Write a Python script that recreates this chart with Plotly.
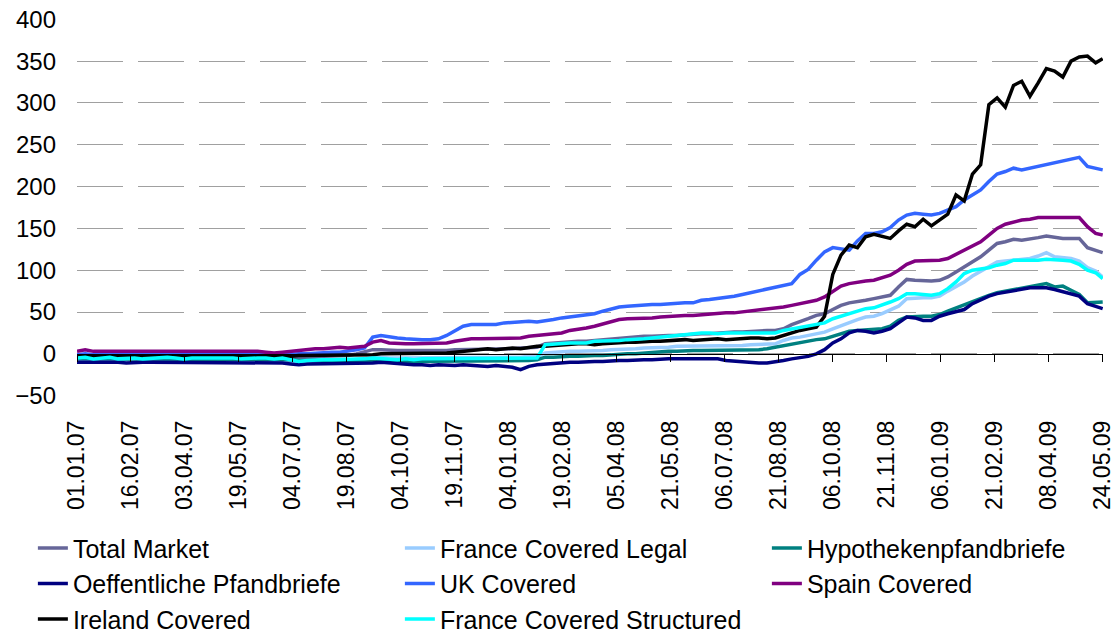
import pandas as pd
import plotly.graph_objects as go

# weekly readings, 01.01.07 .. 18.05.09, plus the last day 24.05.09
DATES = list(pd.date_range("2007-01-01", periods=125, freq="7D")) + [pd.Timestamp("2009-05-24")]

TICK_LABELS = ["01.01.07", "16.02.07", "03.04.07", "19.05.07", "04.07.07", "19.08.07",
               "04.10.07", "19.11.07", "04.01.08", "19.02.08", "05.04.08", "21.05.08",
               "06.07.08", "21.08.08", "06.10.08", "21.11.08", "06.01.09", "21.02.09",
               "08.04.09", "24.05.09"]

total_market = [
    -4, -4, -3, -4, -4, -4, -3, -4, -4, -4,
    -4, -4, -4, -3, -4, -4, -4, -4, -3, -4,
    -4, -4, -4, -4, -4, -5, -5, -4, -4, -4,
    -3, -3, -2, -2, 0, 2, 5, 5, 4, 4,
    4, 4, 3, 4, 4, 4, 5, 5, 5, 6,
    6, 6, 6, 6, 7, 7, 8, 12, 13, 13,
    14, 15, 15, 16, 17, 18, 19, 20, 20, 21,
    21, 22, 22, 22, 23, 23, 24, 24, 25, 25,
    26, 26, 27, 27, 28, 28, 30, 35, 38, 42,
    46, 48, 53, 58, 61, 62, 64, 66, 68, 70,
    80, 89, 88, 87, 87, 88, 92, 98, 104, 110,
    116, 124, 132, 134, 137, 136, 137, 139, 141, 139,
    138, 138, 138, 127, 124, 121]

france_legal = [
    -7, -7, -7, -8, -7, -7, -7, -7, -8, -7,
    -7, -7, -7, -7, -8, -7, -7, -7, -7, -7,
    -7, -8, -7, -7, -8, -9, -10, -11, -10, -9,
    -9, -9, -8, -7, -6, -5, -4, -4, -5, -5,
    -5, -5, -5, -5, -5, -4, -4, -4, -5, -4,
    -4, -4, -4, -4, -4, -3, -3, 1, 2, 2,
    3, 3, 3, 4, 4, 5, 5, 6, 6, 7,
    7, 8, 8, 9, 9, 9, 10, 10, 10, 10,
    10, 10, 11, 11, 11, 12, 16, 19, 20, 22,
    24, 26, 30, 34, 38, 41, 44, 45, 48, 52,
    57, 66, 67, 67, 67, 69, 75, 80, 86, 93,
    99, 104, 110, 111, 112, 113, 114, 117, 121, 116,
    115, 114, 111, 103, 99, 92]

hypo = [
    -6, -6, -6, -6, -7, -6, -6, -6, -6, -6,
    -6, -6, -6, -7, -6, -6, -6, -6, -6, -6,
    -6, -6, -7, -6, -7, -7, -7, -8, -8, -7,
    -7, -7, -8, -8, -8, -8, -8, -8, -9, -9,
    -8, -9, -9, -8, -9, -9, -8, -8, -9, -8,
    -8, -8, -9, -9, -9, -8, -7, -4, -4, -3,
    -3, -3, -2, -2, -2, -1, -1, 0, 0, 1,
    1, 2, 3, 3, 4, 4, 4, 4, 4, 4,
    4, 4, 5, 5, 6, 8, 10, 12, 13, 15,
    17, 18, 21, 25, 27, 28, 29, 29, 30, 33,
    40, 44, 45, 45, 45, 47, 51, 55, 58, 63,
    67, 70, 73, 75, 77, 79, 80, 82, 84, 80,
    81, 76, 71, 61, 61, 62]

oeffentliche = [
    -10, -10, -9, -10, -10, -10, -11, -10, -10, -10,
    -10, -10, -10, -11, -10, -10, -10, -10, -10, -11,
    -10, -10, -10, -10, -11, -11, -12, -13, -12, -12,
    -12, -12, -12, -11, -11, -11, -11, -10, -11, -12,
    -12, -13, -13, -14, -13, -14, -14, -13, -14, -14,
    -15, -14, -15, -16, -19, -15, -13, -12, -11, -10,
    -10, -10, -9, -9, -9, -8, -8, -8, -7, -7,
    -7, -6, -6, -6, -6, -5, -5, -5, -6, -8,
    -9, -9, -10, -11, -11, -10, -8, -6, -5, -3,
    0, 5, 13, 18, 25, 28, 27, 25, 27, 30,
    37, 44, 43, 40, 40, 45, 48, 50, 53, 60,
    65, 69, 72, 74, 76, 78, 79, 79, 79, 77,
    74, 72, 69, 60, 57, 54]

uk = [
    -1, 0, -1, -1, -1, 0, -1, -1, -1, -1,
    -1, -1, 0, -1, -1, -1, -1, 0, -1, -1,
    -1, -1, -1, -1, -2, -1, -1, 0, 0, 1,
    1, 2, 2, 3, 5, 7, 20, 22, 20, 19,
    18, 17, 17, 17, 18, 22, 27, 33, 35, 35,
    36, 35, 37, 38, 38, 39, 38, 39, 41, 43,
    44, 45, 47, 48, 51, 54, 56, 57, 58, 58,
    59, 59, 60, 60, 61, 61, 64, 65, 66, 67,
    69, 71, 73, 76, 78, 79, 81, 84, 95, 101,
    112, 122, 127, 126, 124, 135, 144, 144, 146, 151,
    160, 166, 168, 167, 166, 168, 172, 176, 184, 190,
    196, 206, 215, 218, 222, 220, 222, 225, 227, 228,
    230, 233, 235, 224, 222, 220]

spain = [
    3, 5, 3, 3, 4, 3, 3, 3, 4, 3,
    3, 3, 4, 3, 3, 3, 4, 3, 3, 3,
    3, 3, 3, 2, 1, 2, 3, 5, 5, 6,
    6, 7, 8, 7, 8, 9, 14, 16, 13, 12,
    12, 12, 12, 12, 13, 13, 15, 17, 18, 18,
    18, 18, 18, 19, 19, 21, 22, 23, 24, 25,
    28, 29, 31, 33, 36, 39, 41, 42, 42, 42,
    43, 44, 45, 46, 46, 46, 47, 48, 48, 49,
    49, 50, 52, 53, 54, 55, 56, 58, 60, 62,
    64, 68, 75, 81, 84, 86, 87, 88, 91, 94,
    100, 107, 111, 111, 111, 112, 114, 119, 125, 130,
    134, 142, 150, 155, 158, 160, 161, 163, 163, 163,
    163, 163, 163, 152, 144, 142]

ireland = [
    -3, -3, -3, -4, -3, -3, -3, -4, -3, -3,
    -3, -3, -3, -3, -4, -3, -3, -3, -3, -3,
    -3, -3, -3, -3, -3, -3, -3, -2, -2, -2,
    -2, -2, -1, -2, -2, -1, -1, 0, 0, 0,
    1, 0, 0, 1, 0, 1, 2, 3, 4, 5,
    6, 5, 6, 7, 6, 8, 9, 9, 10, 11,
    11, 12, 12, 11, 12, 13, 13, 14, 14, 15,
    15, 15, 16, 16, 17, 16, 17, 17, 18, 17,
    18, 18, 19, 19, 18, 19, 22, 26, 28, 30,
    32, 45, 95, 118, 130, 127, 140, 143, 140, 138,
    147, 155, 152, 161, 153, 160, 167, 190, 183, 215,
    226, 298, 306, 295, 321, 326, 308, 324, 341, 338,
    331, 350, 355, 356, 348, 353]

france_structured = [
    -5, -4, -6, -5, -4, -6, -5, -5, -6, -5,
    -5, -4, -5, -6, -5, -5, -5, -4, -5, -5,
    -6, -5, -5, -5, -6, -5, -7, -9, -8, -7,
    -7, -7, -7, -6, -6, -6, -5, -6, -6, -7,
    -6, -7, -6, -6, -5, -6, -6, -5, -5, -6,
    -5, -6, -6, -6, -6, -5, -5, 11, 12, 12,
    13, 13, 13, 15, 15, 16, 16, 17, 17, 18,
    19, 20, 22, 23, 23, 24, 25, 25, 24, 25,
    25, 24, 25, 24, 24, 25, 28, 30, 31, 33,
    35, 37, 42, 45, 48, 51, 54, 55, 58, 62,
    66, 72, 72, 71, 70, 72, 78, 86, 96, 100,
    101, 103, 106, 108, 112, 112, 111, 112, 113, 113,
    112, 111, 107, 100, 97, 90]

series = [
    ("Total Market", total_market, "#666699"),
    ("France Covered Legal", france_legal, "#99CCFF"),
    ("Hypothekenpfandbriefe", hypo, "#008080"),
    ("Oeffentliche Pfandbriefe", oeffentliche, "#000080"),
    ("UK Covered", uk, "#3366FF"),
    ("Spain Covered", spain, "#800080"),
    ("Ireland Covered", ireland, "#000000"),
    ("France Covered Structured", france_structured, "#00FFFF"),
]

FONT = "Liberation Sans, Arial, sans-serif"
Y_RANGE = [-50.4, 400.4]
tick_dates = pd.to_datetime(TICK_LABELS, format="%d.%m.%y")
x_range = [tick_dates[0], tick_dates[-1] + pd.Timedelta(hours=6)]

fig = go.Figure()
for name, vals, color in series:
    fig.add_trace(go.Scatter(x=DATES, y=vals, name=name, mode="lines",
                             line=dict(color=color, width=3.5)))

# invisible copy on the second x axis, so that axis (zero line + ticks) gets drawn
fig.add_trace(go.Scatter(x=DATES, y=total_market, xaxis="x2", mode="lines",
                         line=dict(color="rgba(0,0,0,0)", width=0),
                         showlegend=False, hoverinfo="skip"))

fig.update_layout(
    width=1114, height=632,
    margin=dict(l=77, r=11, t=19, b=236, autoexpand=False),
    paper_bgcolor="white", plot_bgcolor="white",
    font=dict(family=FONT, size=22, color="black"),
    showlegend=True,
    legend=dict(orientation="h", x=-0.043, y=-0.343, xanchor="left", yanchor="top",
                entrywidth=322, entrywidthmode="pixels",
                font=dict(size=25), traceorder="normal"),
    xaxis=dict(type="date", range=x_range, tickvals=tick_dates, ticktext=TICK_LABELS,
               tickangle=-90, showgrid=False, showline=False, ticks="",
               tickfont=dict(size=23), ticklabelstandoff=19, zeroline=False,
               ticklabeloverflow="allow"),
    # second x axis only draws the zero line with its tick marks
    xaxis2=dict(type="date", range=x_range, tickvals=tick_dates, overlaying="x",
                anchor="free", position=(0 - Y_RANGE[0]) / (Y_RANGE[1] - Y_RANGE[0]),
                showline=True, linecolor="black", linewidth=1,
                ticks="outside", ticklen=7, tickcolor="black",
                showticklabels=False, showgrid=False, zeroline=False),
    yaxis=dict(range=Y_RANGE, tickvals=list(range(-50, 401, 50)),
               showgrid=True, gridcolor="#a0a0a0", gridwidth=1, griddash="46px,15px",
               zeroline=False, showline=False, ticks="",
               tickfont=dict(size=24), ticklabelstandoff=20,
               ticklabeloverflow="allow"),
)

# drop the browser's default 8px body margin so the figure fills the window
fig.write_html("out.html", config={"displayModeBar": False},
               post_script="document.body.style.margin = '0';")
